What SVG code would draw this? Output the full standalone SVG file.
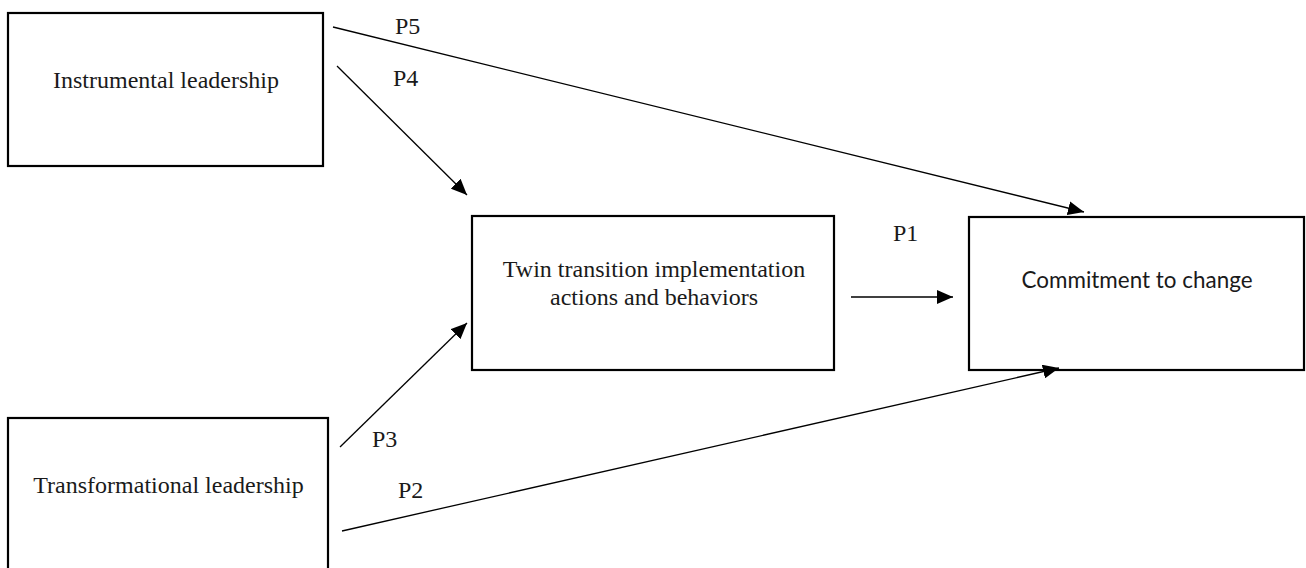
<svg xmlns="http://www.w3.org/2000/svg" width="1306" height="568" viewBox="0 0 1306 568">
  <style>
    .box { fill: #ffffff; stroke: #000000; stroke-width: 2.2; }
    .serif { font-family: "Liberation Serif", "Times New Roman", serif; font-size: 24px; fill: #1a1a1a; }
    .sans { font-family: Lato, "Noto Sans", "Liberation Sans", sans-serif; font-size: 24px; fill: #1a1a1a; }
    .conn { stroke: #000000; stroke-width: 1.3; fill: none; marker-end: url(#arrow); }
  </style>
  <defs>
    <marker id="arrow" markerUnits="userSpaceOnUse" markerWidth="16" markerHeight="14" viewBox="0 0 16 14" refX="16" refY="7" orient="auto">
      <path d="M0,0 L16,7 L0,14 Z" fill="#000000"/>
    </marker>
  </defs>
  <rect width="1306" height="568" fill="#ffffff"/>

  <g id="instrumental">
    <rect class="box" x="8" y="13" width="315" height="153"/>
    <text class="serif" x="166" y="88" text-anchor="middle">Instrumental leadership</text>
  </g>

  <g id="twin">
    <rect class="box" x="472" y="216" width="362" height="154"/>
    <text class="serif" x="654" y="277" text-anchor="middle">Twin transition implementation</text>
    <text class="serif" x="654" y="305" text-anchor="middle">actions and behaviors</text>
  </g>

  <g id="commitment">
    <rect class="box" x="969" y="217" width="335" height="153"/>
    <text class="sans" x="1137" y="288" text-anchor="middle" textLength="231" lengthAdjust="spacingAndGlyphs">Commitment to change</text>
  </g>

  <g id="transformational">
    <rect class="box" x="8" y="418" width="320" height="170"/>
    <text class="serif" x="168.5" y="493" text-anchor="middle">Transformational leadership</text>
  </g>

  <g id="connectors">
    <line class="conn" x1="333" y1="27" x2="1084" y2="212"/>
    <line class="conn" x1="337" y1="66" x2="467" y2="195"/>
    <line class="conn" x1="851" y1="297" x2="953" y2="297"/>
    <line class="conn" x1="340" y1="447" x2="467" y2="323"/>
    <line class="conn" x1="342" y1="531" x2="1059" y2="368"/>
    <text class="serif" x="395" y="34">P5</text>
    <text class="serif" x="393" y="86">P4</text>
    <text class="serif" x="893" y="241">P1</text>
    <text class="serif" x="372" y="447">P3</text>
    <text class="serif" x="398" y="498">P2</text>
  </g>
</svg>
